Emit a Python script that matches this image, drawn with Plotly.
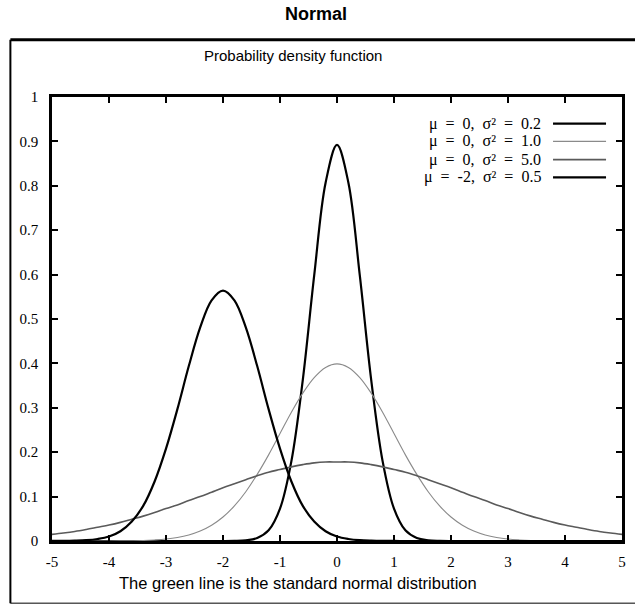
import plotly.graph_objects as go

# Sample positions along the x axis
x_values = [round(-5 + 0.2 * i, 1) for i in range(51)]

# Density values read at each sample position
pdf_mu0_var02 = [0] * 16 + [
    0.0003, 0.0015, 0.0066, 0.024, 0.073, 0.180, 0.363, 0.598, 0.807,
    0.892,
    0.807, 0.598, 0.363, 0.180, 0.073, 0.024, 0.0066, 0.0015, 0.0003,
] + [0] * 16

pdf_mu0_var10 = [
    0, 0, 0, 0, 0, 0.0001, 0.0003, 0.0006, 0.0012, 0.0024, 0.0044, 0.0079,
    0.0136, 0.0224, 0.0355, 0.054, 0.079, 0.111, 0.150, 0.194, 0.242, 0.290,
    0.333, 0.368, 0.391,
    0.399,
    0.391, 0.368, 0.333, 0.290, 0.242, 0.194, 0.150, 0.111, 0.079, 0.054,
    0.0355, 0.0224, 0.0136, 0.0079, 0.0044, 0.0024, 0.0012, 0.0006, 0.0003,
    0.0001, 0, 0, 0, 0, 0,
]

pdf_mu0_var50 = [
    0.015, 0.018, 0.0215, 0.026, 0.031, 0.036, 0.042, 0.049, 0.056, 0.064,
    0.073, 0.081, 0.091, 0.100, 0.110, 0.120, 0.129, 0.138, 0.147, 0.155,
    0.161, 0.167, 0.172, 0.176, 0.178,
    0.178,
    0.178, 0.176, 0.172, 0.167, 0.161, 0.155, 0.147, 0.138, 0.129, 0.120,
    0.110, 0.100, 0.091, 0.081, 0.073, 0.064, 0.056, 0.049, 0.042, 0.036,
    0.031, 0.026, 0.0215, 0.018, 0.015,
]

pdf_mum2_var05 = [
    0.0001, 0.0002, 0.0007, 0.0018, 0.0045, 0.010, 0.022, 0.044, 0.079, 0.134,
    0.208, 0.297, 0.394, 0.481, 0.542,
    0.564,
    0.542, 0.481, 0.394, 0.297, 0.208, 0.134, 0.079, 0.044, 0.022, 0.010,
    0.0045, 0.0018, 0.0007, 0.0002, 0.0001,
] + [0] * 20

series_labels = [
    "μ = 0, σ² = 0.2",
    "μ = 0, σ² = 1.0",
    "μ = 0, σ² = 5.0",
    "μ = -2, σ² = 0.5",
]
series_values = [pdf_mu0_var02, pdf_mu0_var10, pdf_mu0_var50, pdf_mum2_var05]
series_colors = ["#000000", "#8a8a8a", "#5a5a5a", "#000000"]
series_widths = [2.2, 1.1, 1.6, 2.2]

x_ticks = [-5, -4, -3, -2, -1, 0, 1, 2, 3, 4, 5]
y_ticks = [0, 0.1, 0.2, 0.3, 0.4, 0.5, 0.6, 0.7, 0.8, 0.9, 1]
y_tick_text = ["0", "0.1", "0.2", "0.3", "0.4", "0.5", "0.6", "0.7", "0.8", "0.9", "1"]

SERIF = "Liberation Serif, Times New Roman, serif"
SANS = "Liberation Sans, Arial, sans-serif"

fig = go.Figure()
for vals, name, col, w in zip(series_values, series_labels, series_colors, series_widths):
    fig.add_trace(go.Scatter(
        x=x_values, y=vals, mode="lines", name=name,
        line=dict(color=col, width=w, shape="spline", smoothing=1.0),
        showlegend=False, hoverinfo="skip",
    ))

# Legend: label text (widely spaced, en spaces) followed by a short line sample
legend_rows_y = [0.940, 0.900, 0.859, 0.819]
annotations = []
shapes = []
for name, col, w, yy in zip(series_labels, series_colors, series_widths, legend_rows_y):
    annotations.append(dict(
        x=0.862, y=yy, xref="paper", yref="paper", text=name.replace(" ", "\u2002"),
        showarrow=False, xanchor="right", yanchor="middle",
        font=dict(family=SERIF, size=16, color="#000"),
    ))
    shapes.append(dict(
        type="line", xref="paper", yref="paper", x0=0.879, x1=0.972, y0=yy, y1=yy,
        line=dict(color=col, width=w),
    ))

annotations += [
    dict(x=0.463, y=1.186, xref="paper", yref="paper", text="<b>Normal</b>",
         showarrow=False, xanchor="center", yanchor="middle",
         font=dict(family=SANS, size=18, color="#000")),
    dict(x=0.422, y=1.093, xref="paper", yref="paper", text="Probability density function",
         showarrow=False, xanchor="center", yanchor="middle",
         font=dict(family=SANS, size=15, color="#000")),
    dict(x=0.432, y=-0.095, xref="paper", yref="paper",
         text="The green line is the standard normal distribution",
         showarrow=False, xanchor="center", yanchor="middle",
         font=dict(family=SANS, size=16.5, color="#000")),
]

# Outer frame around the whole figure
shapes += [
    dict(type="line", xref="paper", yref="paper", x0=-0.073, x1=1.03, y0=1.129, y1=1.129,
         line=dict(color="#000", width=3)),
    dict(type="line", xref="paper", yref="paper", x0=-0.073, x1=-0.073, y0=-0.140, y1=1.129,
         line=dict(color="#000", width=2)),
    dict(type="line", xref="paper", yref="paper", x0=-0.073, x1=1.03, y0=-0.140, y1=-0.140,
         line=dict(color="#000", width=1)),
]

fig.update_layout(
    width=635, height=607,
    margin=dict(l=52, r=9, t=97, b=66),
    paper_bgcolor="white", plot_bgcolor="white",
    annotations=annotations, shapes=shapes,
    showlegend=False,
)
fig.update_xaxes(
    range=[-5, 5], tickvals=x_ticks, ticktext=[str(v) for v in x_ticks],
    showgrid=False, zeroline=False, showline=True, linecolor="#000", linewidth=2.5,
    mirror="ticks", ticks="inside", ticklen=6, tickwidth=1.5, tickcolor="#000",
    tickfont=dict(family=SERIF, size=15, color="#000"), ticklabelstandoff=5,
)
fig.update_yaxes(
    range=[0, 1], tickvals=y_ticks, ticktext=y_tick_text,
    showgrid=False, zeroline=False, showline=True, linecolor="#000", linewidth=2.5,
    mirror="ticks", ticks="inside", ticklen=6, tickwidth=1.5, tickcolor="#000",
    tickfont=dict(family=SERIF, size=15, color="#000"), ticklabelstandoff=8,
)

fig.write_html("out.html")
